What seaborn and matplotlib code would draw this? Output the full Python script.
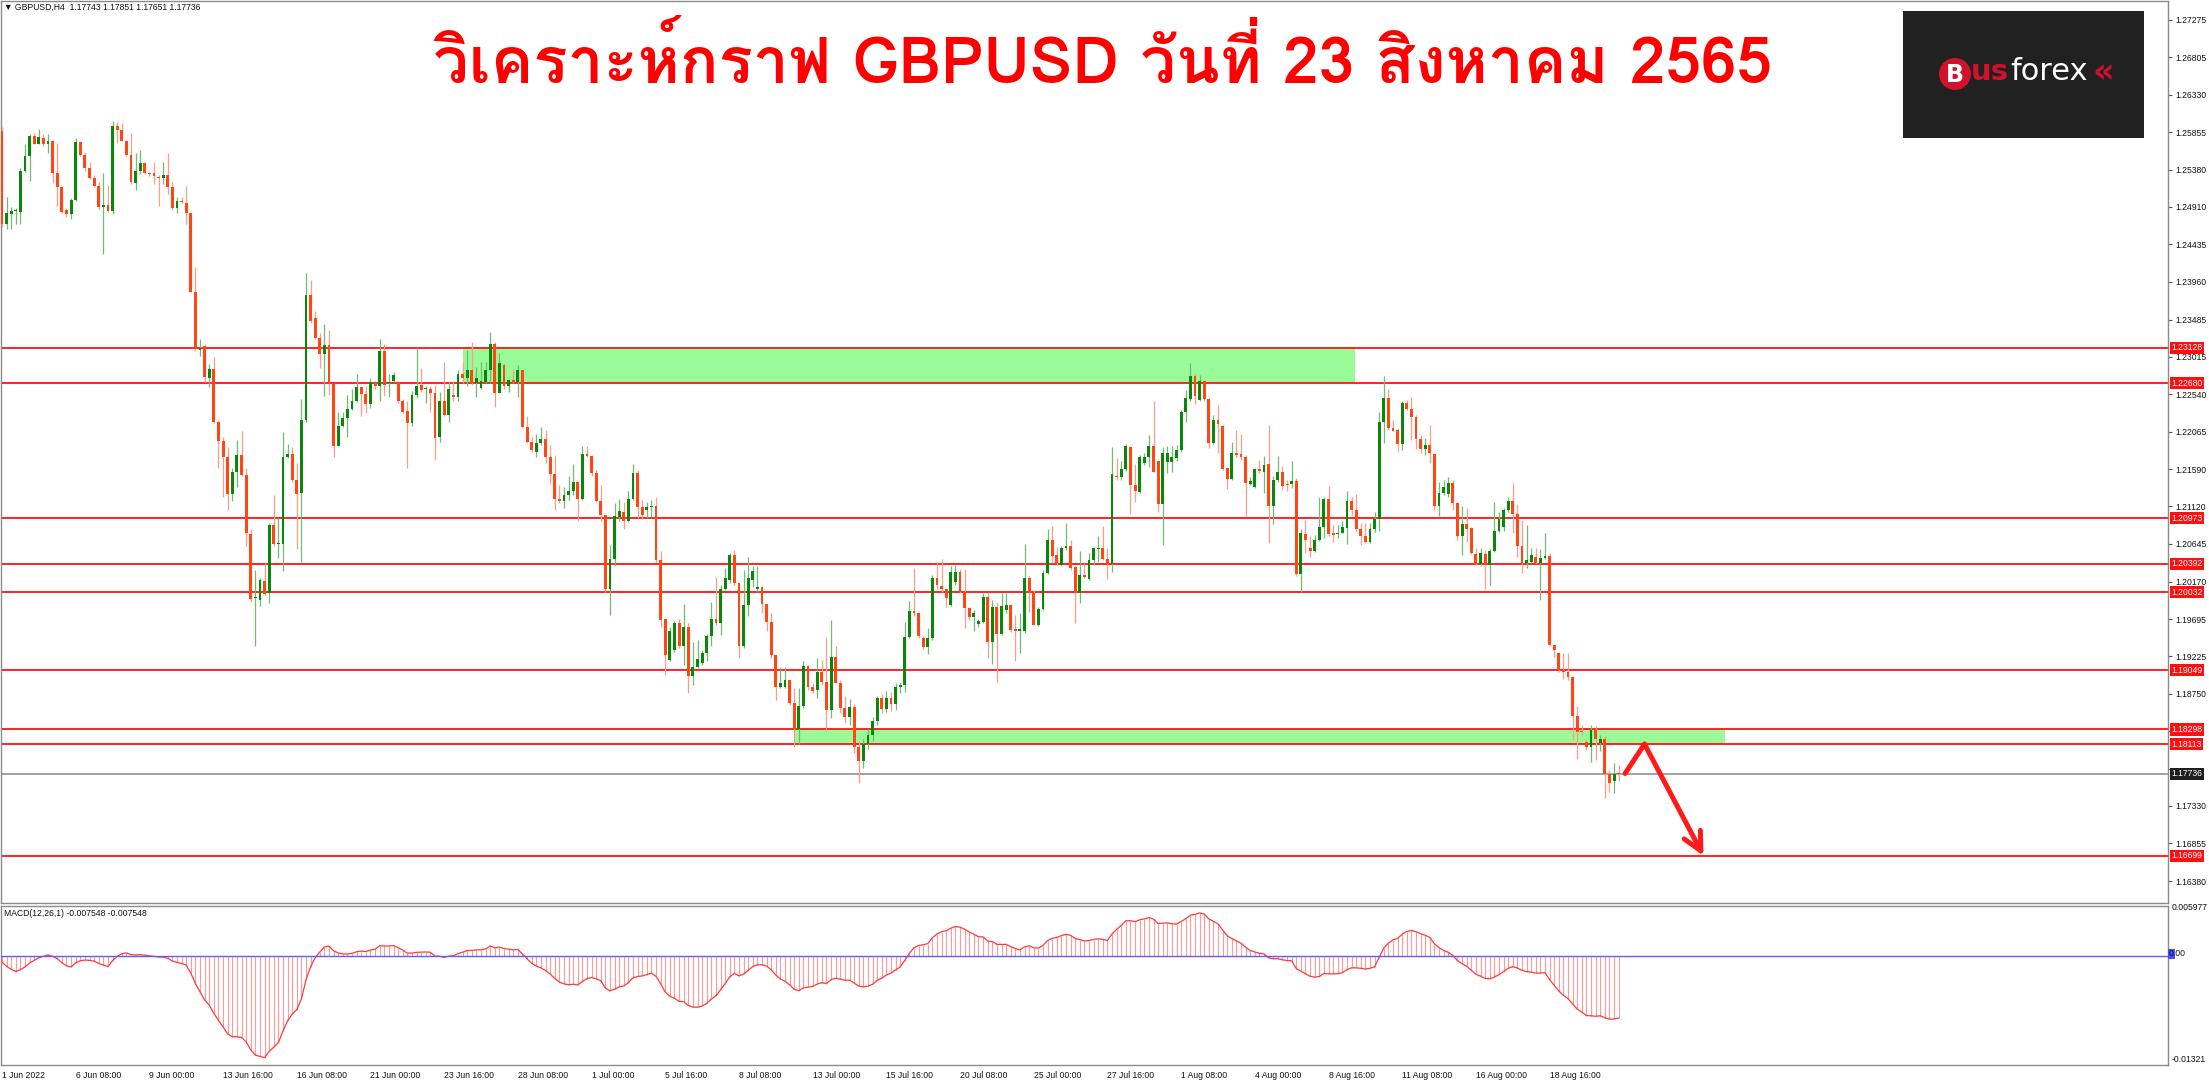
import numpy as np
import pandas as pd
import matplotlib
matplotlib.use("Agg")
import matplotlib.pyplot as plt
from matplotlib import font_manager
from matplotlib.patches import Rectangle, Ellipse
import matplotlib.transforms as mtransforms
import seaborn as sns

# ---------------- data (GBPUSD H4) ----------------
opens = [
    1.2587, 1.2470, 1.2482, 1.2486, 1.2485, 1.2537, 1.2555, 1.2581, 1.2571, 1.2578,
    1.2570, 1.2575, 1.2534, 1.2516, 1.2487, 1.2482, 1.2500, 1.2573, 1.2557, 1.2540,
    1.2527, 1.2518, 1.2491, 1.2494, 1.2486, 1.2594, 1.2588, 1.2575, 1.2557, 1.2521,
    1.2537, 1.2547, 1.2534, 1.2534, 1.2529, 1.2527, 1.2532, 1.2516, 1.2489, 1.2499,
    1.2496, 1.2483, 1.2383, 1.2310, 1.2315, 1.2275, 1.2286, 1.2219, 1.2195, 1.2174,
    1.2128, 1.2156, 1.2177, 1.2152, 1.2077, 1.1996, 1.1993, 1.2018, 1.2002, 1.2089,
    1.2064, 1.2065, 1.2174, 1.2178, 1.2145, 1.2129, 1.2221, 1.2380, 1.2350, 1.2325,
    1.2305, 1.2316, 1.2267, 1.2189, 1.2214, 1.2224, 1.2235, 1.2246, 1.2263, 1.2254,
    1.2241, 1.2269, 1.2265, 1.2309, 1.2268, 1.2271, 1.2269, 1.2245, 1.2233, 1.2217,
    1.2253, 1.2266, 1.2260, 1.2261, 1.2255, 1.2200, 1.2245, 1.2228, 1.2253, 1.2250,
    1.2280, 1.2275, 1.2284, 1.2268, 1.2262, 1.2270, 1.2285, 1.2318, 1.2256, 1.2291,
    1.2264, 1.2272, 1.2270, 1.2285, 1.2213, 1.2194, 1.2181, 1.2192, 1.2197, 1.2175,
    1.2153, 1.2122, 1.2119, 1.2126, 1.2131, 1.2143, 1.2122, 1.2178, 1.2176, 1.2154,
    1.2119, 1.2101, 1.2007, 1.2046, 1.2099, 1.2105, 1.2093, 1.2122, 1.2154, 1.2111,
    1.2108, 1.2111, 1.2112, 1.2044, 1.1969, 1.1918, 1.1930, 1.1965, 1.1935, 1.1960,
    1.1897, 1.1909, 1.1914, 1.1926, 1.1948, 1.1969, 1.1964, 1.2007, 1.2019, 1.2051,
    1.2015, 1.1935, 1.1987, 1.2019, 1.2008, 1.2010, 1.1989, 1.1966, 1.1924, 1.1883,
    1.1883, 1.1892, 1.1863, 1.1830, 1.1859, 1.1910, 1.1884, 1.1880, 1.1902, 1.1890,
    1.1855, 1.1921, 1.1889, 1.1857, 1.1845, 1.1858, 1.1808, 1.1790, 1.1812, 1.1823,
    1.1840, 1.1869, 1.1856, 1.1870, 1.1862, 1.1883, 1.1886, 1.1947, 1.1980, 1.1977,
    1.1946, 1.1934, 1.1945, 1.2021, 1.2011, 1.2007, 1.1987, 1.2017, 1.2029, 1.2004,
    1.1983, 1.1972, 1.1963, 1.1966, 1.1998, 1.1940, 1.1985, 1.1951, 1.1981, 1.1987,
    1.1956, 1.1955, 1.1954, 1.2022, 1.2002, 1.1962, 1.1982, 1.2028, 1.2070, 1.2050,
    1.2038, 1.2059, 1.2062, 1.2035, 1.2002, 1.2025, 1.2020, 1.2044, 1.2058, 1.2060,
    1.2046, 1.2039, 1.2151, 1.2149, 1.2159, 1.2187, 1.2139, 1.2130, 1.2167, 1.2174,
    1.2188, 1.2170, 1.2115, 1.2168, 1.2168, 1.2173, 1.2183, 1.2231, 1.2248, 1.2277,
    1.2247, 1.2271, 1.2248, 1.2192, 1.2221, 1.2214, 1.2161, 1.2147, 1.2179, 1.2178,
    1.2175, 1.2140, 1.2137, 1.2159, 1.2155, 1.2166, 1.2113, 1.2146, 1.2156, 1.2141,
    1.2141, 1.2144, 1.2027, 1.2077, 1.2060, 1.2056, 1.2070, 1.2086, 1.2121, 1.2078,
    1.2077, 1.2079, 1.2085, 1.2119, 1.2107, 1.2083, 1.2074, 1.2067, 1.2083, 1.2096,
    1.2219, 1.2249, 1.2211, 1.2209, 1.2191, 1.2243, 1.2235, 1.2225, 1.2197, 1.2185,
    1.2190, 1.2178, 1.2112, 1.2129, 1.2128, 1.2142, 1.2116, 1.2075, 1.2090, 1.2085,
    1.2052, 1.2039, 1.2052, 1.2038, 1.2055, 1.2081, 1.2086, 1.2107, 1.2119, 1.2103,
    1.2062, 1.2040, 1.2042, 1.2048, 1.2040, 1.2047, 1.2049, 1.1937, 1.1926, 1.1905,
    1.1902, 1.1896, 1.1847, 1.1828, 1.1814, 1.1807, 1.1829, 1.1813, 1.1818, 1.1774,
    1.1764, 1.17743,
]
highs = [
    1.2592, 1.2503, 1.2491, 1.2490, 1.2540, 1.2570, 1.2583, 1.2585, 1.2590, 1.2583,
    1.2583, 1.2576, 1.2572, 1.2516, 1.2489, 1.2502, 1.2578, 1.2575, 1.2561, 1.2548,
    1.2531, 1.2522, 1.2534, 1.2519, 1.2600, 1.2599, 1.2597, 1.2576, 1.2584, 1.2559,
    1.2563, 1.2548, 1.2535, 1.2548, 1.2531, 1.2548, 1.2559, 1.2522, 1.2503, 1.2503,
    1.2518, 1.2483, 1.2415, 1.2324, 1.2317, 1.2292, 1.2301, 1.2221, 1.2200, 1.2187,
    1.2160, 1.2196, 1.2208, 1.2160, 1.2083, 1.2032, 1.2021, 1.2041, 1.2091, 1.2126,
    1.2097, 1.2206, 1.2191, 1.2187, 1.2167, 1.2248, 1.2407, 1.2398, 1.2359, 1.2332,
    1.2343, 1.2335, 1.2267, 1.2232, 1.2232, 1.2253, 1.2261, 1.2280, 1.2265, 1.2265,
    1.2274, 1.2271, 1.2324, 1.2317, 1.2280, 1.2282, 1.2271, 1.2248, 1.2245, 1.2258,
    1.2313, 1.2287, 1.2264, 1.2264, 1.2266, 1.2257, 1.2295, 1.2270, 1.2271, 1.2285,
    1.2295, 1.2310, 1.2320, 1.2289, 1.2295, 1.2295, 1.2333, 1.2320, 1.2306, 1.2293,
    1.2272, 1.2285, 1.2291, 1.2285, 1.2226, 1.2200, 1.2204, 1.2213, 1.2209, 1.2190,
    1.2177, 1.2139, 1.2137, 1.2150, 1.2166, 1.2144, 1.2188, 1.2188, 1.2177, 1.2158,
    1.2139, 1.2101, 1.2063, 1.2116, 1.2122, 1.2118, 1.2131, 1.2166, 1.2158, 1.2120,
    1.2118, 1.2120, 1.2124, 1.2055, 1.1970, 1.1960, 1.1967, 1.1970, 1.1989, 1.1964,
    1.1941, 1.1943, 1.1930, 1.1951, 1.1991, 1.2023, 1.2013, 1.2034, 1.2053, 1.2057,
    1.2015, 1.2031, 1.2048, 1.2037, 1.2037, 1.2011, 1.1989, 1.1977, 1.1924, 1.1909,
    1.1909, 1.1893, 1.1882, 1.1882, 1.1916, 1.1911, 1.1888, 1.1920, 1.1918, 1.1947,
    1.1968, 1.1935, 1.1892, 1.1872, 1.1868, 1.1862, 1.1815, 1.1818, 1.1830, 1.1845,
    1.1872, 1.1875, 1.1878, 1.1877, 1.1888, 1.1890, 1.1966, 1.1992, 1.2034, 1.1979,
    1.1948, 1.1958, 1.2025, 1.2040, 1.2045, 1.2008, 1.2036, 1.2038, 1.2033, 1.2033,
    1.1985, 1.1981, 1.1970, 1.2002, 1.2002, 1.1994, 1.1991, 1.2002, 1.2002, 1.1989,
    1.1975, 1.1977, 1.2064, 1.2024, 1.2006, 1.1985, 1.2032, 1.2083, 1.2087, 1.2061,
    1.2062, 1.2091, 1.2070, 1.2036, 1.2055, 1.2040, 1.2053, 1.2061, 1.2075, 1.2087,
    1.2059, 1.2187, 1.2173, 1.2169, 1.2191, 1.2188, 1.2166, 1.2177, 1.2179, 1.2202,
    1.2246, 1.2171, 1.2187, 1.2188, 1.2188, 1.2190, 1.2234, 1.2259, 1.2293, 1.2280,
    1.2278, 1.2272, 1.2249, 1.2228, 1.2240, 1.2215, 1.2162, 1.2194, 1.2209, 1.2204,
    1.2177, 1.2149, 1.2160, 1.2171, 1.2176, 1.2215, 1.2150, 1.2176, 1.2163, 1.2145,
    1.2169, 1.2148, 1.2084, 1.2095, 1.2074, 1.2076, 1.2124, 1.2124, 1.2138, 1.2088,
    1.2088, 1.2093, 1.2131, 1.2124, 1.2128, 1.2091, 1.2091, 1.2091, 1.2105, 1.2232,
    1.2277, 1.2261, 1.2221, 1.2211, 1.2245, 1.2247, 1.2250, 1.2228, 1.2202, 1.2198,
    1.2215, 1.2179, 1.2143, 1.2145, 1.2149, 1.2145, 1.2118, 1.2112, 1.2110, 1.2086,
    1.2059, 1.2059, 1.2057, 1.2058, 1.2117, 1.2105, 1.2110, 1.2124, 1.2142, 1.2115,
    1.2095, 1.2088, 1.2059, 1.2060, 1.2058, 1.2079, 1.2053, 1.1937, 1.1926, 1.1926,
    1.1926, 1.1897, 1.1859, 1.1835, 1.1818, 1.1835, 1.1834, 1.1823, 1.1821, 1.1778,
    1.1787, 1.17851,
]
lows = [
    1.2465, 1.2463, 1.2463, 1.2470, 1.2470, 1.2535, 1.2524, 1.2570, 1.2570, 1.2568,
    1.2559, 1.2521, 1.2492, 1.2483, 1.2478, 1.2476, 1.2498, 1.2555, 1.2537, 1.2526,
    1.2516, 1.2488, 1.2431, 1.2485, 1.2482, 1.2572, 1.2574, 1.2555, 1.2520, 1.2513,
    1.2533, 1.2533, 1.2530, 1.2520, 1.2492, 1.2520, 1.2507, 1.2487, 1.2483, 1.2496,
    1.2470, 1.2383, 1.2309, 1.2302, 1.2269, 1.2263, 1.2217, 1.2160, 1.2124, 1.2108,
    1.2119, 1.2137, 1.2150, 1.2062, 1.1991, 1.1935, 1.1986, 1.2000, 1.1990, 1.2062,
    1.2047, 1.2030, 1.2173, 1.2143, 1.2058, 1.2042, 1.2219, 1.2344, 1.2324, 1.2287,
    1.2252, 1.2253, 1.2174, 1.2188, 1.2213, 1.2200, 1.2234, 1.2244, 1.2227, 1.2230,
    1.2236, 1.2261, 1.2245, 1.2252, 1.2250, 1.2269, 1.2243, 1.2230, 1.2160, 1.2214,
    1.2249, 1.2257, 1.2243, 1.2232, 1.2171, 1.2194, 1.2226, 1.2219, 1.2245, 1.2245,
    1.2268, 1.2264, 1.2266, 1.2251, 1.2260, 1.2268, 1.2268, 1.2238, 1.2255, 1.2261,
    1.2257, 1.2268, 1.2251, 1.2211, 1.2192, 1.2181, 1.2175, 1.2190, 1.2167, 1.2141,
    1.2107, 1.2116, 1.2110, 1.2120, 1.2126, 1.2093, 1.2120, 1.2175, 1.2150, 1.2118,
    1.2093, 1.2004, 1.1975, 1.2037, 1.2093, 1.2084, 1.2092, 1.2120, 1.2097, 1.2096,
    1.2097, 1.2099, 1.2042, 1.1960, 1.1899, 1.1916, 1.1928, 1.1933, 1.1911, 1.1876,
    1.1886, 1.1907, 1.1911, 1.1916, 1.1935, 1.1962, 1.1949, 1.2006, 1.2015, 1.2013,
    1.1920, 1.1933, 1.1973, 1.2010, 1.2004, 1.1977, 1.1954, 1.1920, 1.1867, 1.1882,
    1.1882, 1.1861, 1.1808, 1.1812, 1.1857, 1.1880, 1.1876, 1.1869, 1.1886, 1.1827,
    1.1844, 1.1888, 1.1850, 1.1838, 1.1835, 1.1800, 1.1762, 1.1781, 1.1805, 1.1815,
    1.1835, 1.1850, 1.1852, 1.1853, 1.1855, 1.1876, 1.1877, 1.1945, 1.1973, 1.1945,
    1.1932, 1.1925, 1.1943, 1.2008, 1.2004, 1.1985, 1.1986, 1.2013, 1.2002, 1.1958,
    1.1968, 1.1954, 1.1960, 1.1964, 1.1920, 1.1913, 1.1890, 1.1949, 1.1977, 1.1953,
    1.1916, 1.1926, 1.1952, 1.1979, 1.1962, 1.1961, 1.1981, 1.2026, 1.2040, 1.2038,
    1.2037, 1.2057, 1.2032, 1.1964, 1.1990, 1.2021, 1.2019, 1.2038, 1.2042, 1.2044,
    1.2020, 1.2029, 1.2145, 1.2146, 1.2157, 1.2103, 1.2118, 1.2129, 1.2164, 1.2162,
    1.2155, 1.2105, 1.2063, 1.2154, 1.2156, 1.2169, 1.2181, 1.2219, 1.2245, 1.2242,
    1.2245, 1.2245, 1.2186, 1.2191, 1.2180, 1.2158, 1.2134, 1.2146, 1.2175, 1.2171,
    1.2100, 1.2139, 1.2135, 1.2154, 1.2129, 1.2066, 1.2090, 1.2143, 1.2133, 1.2131,
    1.2135, 1.2024, 1.2004, 1.2053, 1.2048, 1.2054, 1.2068, 1.2072, 1.2074, 1.2067,
    1.2072, 1.2078, 1.2065, 1.2101, 1.2081, 1.2063, 1.2066, 1.2066, 1.2080, 1.2081,
    1.2192, 1.2209, 1.2207, 1.2181, 1.2183, 1.2234, 1.2196, 1.2185, 1.2179, 1.2177,
    1.2167, 1.2108, 1.2100, 1.2127, 1.2124, 1.2107, 1.2070, 1.2051, 1.2067, 1.2052,
    1.2038, 1.2036, 1.2008, 1.2013, 1.2054, 1.2080, 1.2081, 1.2105, 1.2078, 1.2048,
    1.2028, 1.2034, 1.2040, 1.2039, 1.1994, 1.2046, 1.1935, 1.1922, 1.1903, 1.1894,
    1.1893, 1.1816, 1.1793, 1.1821, 1.1804, 1.1789, 1.1791, 1.1802, 1.1743, 1.1751,
    1.1750, 1.17651,
]
closes = [
    1.2470, 1.2483, 1.2486, 1.2487, 1.2537, 1.2555, 1.2581, 1.2571, 1.2579, 1.2570,
    1.2574, 1.2534, 1.2516, 1.2485, 1.2482, 1.2500, 1.2573, 1.2557, 1.2540, 1.2527,
    1.2518, 1.2491, 1.2494, 1.2486, 1.2594, 1.2588, 1.2575, 1.2557, 1.2522, 1.2537,
    1.2547, 1.2534, 1.2533, 1.2530, 1.2527, 1.2532, 1.2516, 1.2489, 1.2499, 1.2497,
    1.2483, 1.2383, 1.2311, 1.2312, 1.2276, 1.2286, 1.2219, 1.2195, 1.2174, 1.2128,
    1.2156, 1.2177, 1.2152, 1.2078, 1.1995, 1.1996, 1.2019, 1.2001, 1.2089, 1.2064,
    1.2066, 1.2174, 1.2178, 1.2145, 1.2128, 1.2221, 1.2380, 1.2347, 1.2325, 1.2305,
    1.2316, 1.2267, 1.2189, 1.2214, 1.2224, 1.2235, 1.2246, 1.2263, 1.2254, 1.2241,
    1.2270, 1.2265, 1.2309, 1.2266, 1.2270, 1.2278, 1.2245, 1.2232, 1.2217, 1.2253,
    1.2265, 1.2259, 1.2261, 1.2255, 1.2199, 1.2245, 1.2228, 1.2260, 1.2250, 1.2280,
    1.2275, 1.2284, 1.2268, 1.2274, 1.2271, 1.2285, 1.2318, 1.2256, 1.2293, 1.2264,
    1.2272, 1.2270, 1.2285, 1.2213, 1.2194, 1.2183, 1.2192, 1.2197, 1.2175, 1.2153,
    1.2122, 1.2119, 1.2126, 1.2131, 1.2143, 1.2122, 1.2178, 1.2176, 1.2154, 1.2119,
    1.2101, 1.2007, 1.2046, 1.2100, 1.2106, 1.2093, 1.2122, 1.2154, 1.2111, 1.2101,
    1.2111, 1.2113, 1.2044, 1.1968, 1.1924, 1.1954, 1.1965, 1.1935, 1.1960, 1.1897,
    1.1909, 1.1919, 1.1926, 1.1948, 1.1969, 1.1964, 1.2007, 1.2021, 1.2051, 1.2015,
    1.1935, 1.1987, 1.2021, 1.2030, 1.2010, 1.1989, 1.1966, 1.1924, 1.1884, 1.1888,
    1.1892, 1.1863, 1.1830, 1.1859, 1.1910, 1.1884, 1.1879, 1.1902, 1.1890, 1.1855,
    1.1921, 1.1889, 1.1857, 1.1845, 1.1858, 1.1808, 1.1790, 1.1812, 1.1823, 1.1840,
    1.1869, 1.1856, 1.1870, 1.1862, 1.1883, 1.1886, 1.1947, 1.1980, 1.1977, 1.1948,
    1.1934, 1.1945, 1.2021, 1.2013, 1.2007, 1.1996, 1.2029, 1.2029, 1.2004, 1.1984,
    1.1972, 1.1977, 1.1967, 1.1998, 1.1940, 1.1985, 1.1951, 1.1986, 1.1987, 1.1956,
    1.1955, 1.1957, 1.2022, 1.2002, 1.1962, 1.1982, 1.2028, 1.2070, 1.2049, 1.2040,
    1.2059, 1.2062, 1.2034, 1.2002, 1.2025, 1.2023, 1.2044, 1.2059, 1.2060, 1.2046,
    1.2039, 1.2153, 1.2149, 1.2159, 1.2188, 1.2139, 1.2131, 1.2175, 1.2174, 1.2188,
    1.2156, 1.2115, 1.2180, 1.2180, 1.2174, 1.2183, 1.2231, 1.2249, 1.2277, 1.2252,
    1.2271, 1.2248, 1.2192, 1.2221, 1.2216, 1.2159, 1.2147, 1.2180, 1.2177, 1.2175,
    1.2142, 1.2144, 1.2159, 1.2157, 1.2165, 1.2113, 1.2146, 1.2156, 1.2138, 1.2139,
    1.2144, 1.2027, 1.2078, 1.2070, 1.2056, 1.2070, 1.2086, 1.2121, 1.2077, 1.2076,
    1.2079, 1.2086, 1.2119, 1.2107, 1.2083, 1.2074, 1.2067, 1.2084, 1.2096, 1.2219,
    1.2249, 1.2211, 1.2208, 1.2191, 1.2243, 1.2235, 1.2225, 1.2197, 1.2185, 1.2190,
    1.2179, 1.2112, 1.2129, 1.2136, 1.2142, 1.2116, 1.2075, 1.2090, 1.2084, 1.2053,
    1.2039, 1.2053, 1.2038, 1.2055, 1.2081, 1.2096, 1.2107, 1.2119, 1.2103, 1.2062,
    1.2040, 1.2044, 1.2050, 1.2040, 1.2047, 1.2049, 1.1937, 1.1930, 1.1905, 1.1902,
    1.1896, 1.1847, 1.1826, 1.1826, 1.1807, 1.1829, 1.1818, 1.1818, 1.1774, 1.1762,
    1.1774, 1.17736,
]

# price level used to start the MACD averages (history before the first bar)
macd_seed_price = 1.2570

# horizontal support / resistance lines
red_levels = [1.23128, 1.22680, 1.20973, 1.20392, 1.20032, 1.19049, 1.18298, 1.18113, 1.16699]
last_price = 1.17736

# green zones: (first bar, last bar, low, high)
zones = [(100.0, 293.7, 1.22680, 1.23128), (172.2, 374.1, 1.18113, 1.18298)]

# forecast arrow: bar positions and prices
arrow_bars = [352.4, 356.6, 369.4]
arrow_prices = [1.17741, 1.18113, 1.16699]

price_ticks = [1.27275, 1.26805, 1.26330, 1.25855, 1.25380, 1.24910, 1.24435, 1.23960,
               1.23485, 1.23015, 1.22540, 1.22065, 1.21590, 1.21120, 1.20645, 1.20170,
               1.19695, 1.19225, 1.18750, 1.18275, 1.17800, 1.17330, 1.16855, 1.16380]
hidden_ticks = [1.18275, 1.17800]

date_bars = [0, 16, 32, 48, 64, 80, 96, 112, 128, 144, 160, 176, 192, 208, 224, 240,
             256, 272, 288, 304, 320, 336]
date_labels = ["1 Jun 2022", "6 Jun 08:00", "9 Jun 00:00", "13 Jun 16:00", "16 Jun 08:00",
               "21 Jun 00:00", "23 Jun 16:00", "28 Jun 08:00", "1 Jul 00:00", "5 Jul 16:00",
               "8 Jul 08:00", "13 Jul 00:00", "15 Jul 16:00", "20 Jul 08:00", "25 Jul 00:00",
               "27 Jul 16:00", "1 Aug 08:00", "4 Aug 00:00", "8 Aug 16:00", "11 Aug 08:00",
               "16 Aug 00:00", "18 Aug 16:00"]

title = "วิเคราะห์กราฟ GBPUSD วันที่ 23 สิงหาคม 2565"
header = "▼ GBPUSD,H4  1.17743 1.17851 1.17651 1.17736"
macd_label = "MACD(12,26,1) -0.007548 -0.007548"

# ---------------- fonts ----------------
sns.set_theme(style="white")
small_font = ["Liberation Sans", "DejaVu Sans"]
plt.rcParams["font.family"] = small_font

thai_family = None
try:
    from fontTools.ttLib import TTFont
    for path in sorted(font_manager.findSystemFonts()):
        try:
            tt = TTFont(path, fontNumber=0, lazy=True)
            cmap = tt.getBestCmap() or {}
            if 0x0E27 in cmap and 0x0E34 in cmap and 0x0E2B in cmap:
                font_manager.fontManager.addfont(path)
                thai_family = font_manager.FontProperties(fname=path).get_name()
                break
        except Exception:
            continue
except ImportError:
    pass
title_font = ([thai_family] if thai_family else []) + ["DejaVu Sans"]

# ---------------- figure ----------------
W, H = 2209, 1080
fig = plt.figure(figsize=(W / 100, H / 100), dpi=100)
fig.patch.set_facecolor("white")


def fx(x):
    return x / W


def fy(y):
    return 1 - y / H


ax = fig.add_axes([fx(1), fy(903), fx(2168) - fx(1), fy(1) - fy(903)])
ax2 = fig.add_axes([fx(1), fy(1065), fx(2168) - fx(1), fy(906) - fy(1065)])

o = np.array(opens)
h = np.maximum.reduce([np.array(highs), o, np.array(closes)])
l = np.minimum.reduce([np.array(lows), o, np.array(closes)])
c = np.array(closes)
idx = np.arange(len(c))
up = c >= o
body_lo = np.minimum(o, c)
body_h = np.maximum(np.abs(c - o), 0.00013)

for z0, z1, lo, hi in zones:
    ax.add_patch(Rectangle((z0, lo), z1 - z0, hi - lo, facecolor="#98fb98",
                           edgecolor="none", zorder=1))
for lv in red_levels:
    ax.axhline(lv, color="#ff1010", lw=1.3, zorder=2)
ax.axhline(last_price, color="#9a9a9a", lw=1.3, zorder=2)

ax.vlines(idx[up], l[up], h[up], color="#72bb72", lw=0.9, zorder=3)
ax.vlines(idx[~up], l[~up], h[~up], color="#ff9c88", lw=0.9, zorder=3)
ax.bar(idx[up], body_h[up], bottom=body_lo[up], width=0.62, color="#0b850b",
       linewidth=0, zorder=4)
ax.bar(idx[~up], body_h[~up], bottom=body_lo[~up], width=0.62, color="#ff4614",
       linewidth=0, zorder=4)

# forecast arrow
ax.plot(arrow_bars[:2], arrow_prices[:2], color="#ff1a1a", lw=3.6,
        solid_capstyle="round", zorder=6)
ax.annotate("", xy=(arrow_bars[2], arrow_prices[2]), xytext=(arrow_bars[1], arrow_prices[1]),
            arrowprops=dict(arrowstyle="->,head_length=1.1,head_width=0.55",
                            color="#ff1a1a", lw=3.6, shrinkA=0, shrinkB=0), zorder=6)

x_lo, x_hi = (1 - 2) / 4.606, (2168 - 2) / 4.606
ax.set_xlim(x_lo, x_hi)
ax.set_ylim(1.161021, 1.275154)
ax.set_xticks([])
ax.yaxis.tick_right()
ax.set_yticks(price_ticks)
ax.set_yticklabels(["" if v in hidden_ticks else f"{v:.5f}" for v in price_ticks])
ax.tick_params(axis="y", direction="out", length=3, width=0.8, color="#555555",
               labelsize=6.2, labelcolor="#111111", pad=2)

for sp in ax.spines.values():
    sp.set_color("#8a8a8a")
    sp.set_linewidth(1)

# price labels on the axis
ytrans = mtransforms.blended_transform_factory(ax.transAxes, ax.transData)
for lv in red_levels:
    ax.text(1.0015, lv, f"{lv:.5f}", transform=ytrans, ha="left", va="center",
            fontsize=6.2, color="white", clip_on=False, zorder=10,
            bbox=dict(boxstyle="square,pad=0.18", fc="#ff1010", ec="none"))
ax.text(1.0015, last_price, f"{last_price:.5f}", transform=ytrans, ha="left", va="center",
        fontsize=6.2, color="white", clip_on=False, zorder=10,
        bbox=dict(boxstyle="square,pad=0.18", fc="#1e1e1e", ec="none"))

# ---------------- MACD panel ----------------
s = pd.Series([macd_seed_price] + closes)
macd = (s.ewm(span=12, adjust=False).mean() - s.ewm(span=26, adjust=False).mean()).iloc[1:].to_numpy()
ax2.vlines(idx, 0, macd, color="#ff9a9a", lw=0.8, zorder=2)
sns.lineplot(x=idx, y=macd, ax=ax2, color="#ff3a3a", lw=0.9, zorder=3)
ax2.axhline(0, color="#5c5cff", lw=1.0, zorder=4)
ax2.set_xlim(x_lo, x_hi)
ax2.set_ylim(-0.01321, 0.005977)
ax2.set_yticks([])
ax2.set_xticks(date_bars)
ax2.set_xticklabels(date_labels, ha="left")
ax2.tick_params(axis="x", direction="out", length=3, width=0.8, color="#555555",
                labelsize=6.2, labelcolor="#111111", pad=1)
ax2.set_ylabel("")
for sp in ax2.spines.values():
    sp.set_color("#8a8a8a")
    sp.set_linewidth(1)

fig.text(fx(2172), fy(908), "0.005977", fontsize=6.2, color="#111111", va="center")
fig.text(fx(2172), fy(1059), "-0.01321", fontsize=6.2, color="#111111", va="center")
fig.patches.append(Rectangle((fx(2168), fy(959)), fx(7), 10 / H, transform=fig.transFigure,
                             facecolor="#4b4bff", edgecolor="none"))
fig.text(fx(2169), fy(954), "0.00", fontsize=6.2, color="#111111", va="center")

fig.text(fx(4), fy(7), header, fontsize=6.2, color="#111111", va="center")
fig.text(fx(4), fy(914), macd_label, fontsize=6.2, color="#111111", va="center")

# ---------------- title and logo ----------------
fig.text(fx(1103), fy(62), title, ha="center", va="center", fontsize=46,
         fontweight="bold", color="#ff0000", family=title_font)

fig.patches.append(Rectangle((fx(1903), fy(138)), fx(241), 127 / H, transform=fig.transFigure,
                             facecolor="#212121", edgecolor="none"))
fig.patches.append(Ellipse((fx(1955), fy(74)), 32 / W, 32 / H, transform=fig.transFigure,
                           facecolor="#d0122c", edgecolor="none"))
fig.text(fx(1955), fy(75), "B", ha="center", va="center", fontsize=17, fontweight="bold",
         color="white", family=["DejaVu Sans"])
fig.text(fx(1971), fy(72), "us", ha="left", va="center", fontsize=21, fontweight="bold",
         color="#d0122c", family=["DejaVu Sans"])
fig.text(fx(2010), fy(72), "forex", ha="left", va="center", fontsize=22,
         color="white", family=["DejaVu Sans"])
fig.text(fx(2092), fy(73), "«", ha="left", va="center", fontsize=24, fontweight="bold",
         color="#d0122c", family=["DejaVu Sans"])

fig.savefig("out.png", dpi=100)
